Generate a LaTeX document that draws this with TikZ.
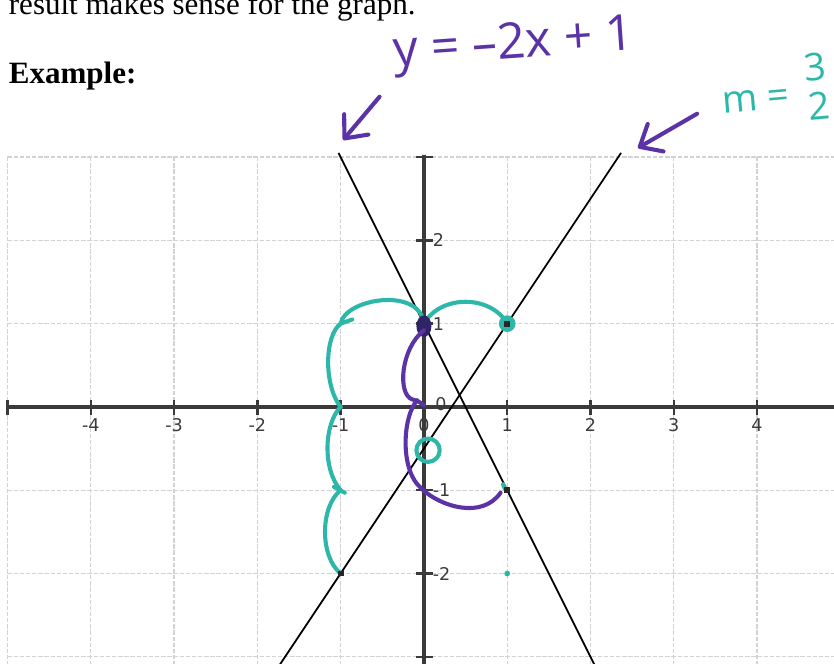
\documentclass[tikz,border=0pt]{standalone}
\usepackage{fontspec}
\setmainfont{Liberation Serif}
\setsansfont{Open Sans}
\newfontfamily\tickfont{DejaVu Sans}
\usepackage{tikz}
\usetikzlibrary{arrows.meta,positioning}
\definecolor{Ink}{HTML}{5B33A6}
\definecolor{InkDark}{HTML}{2F2566}
\definecolor{Sea}{HTML}{2DB7A8}
\definecolor{Grid}{HTML}{D2D2D2}
\definecolor{Axis}{HTML}{3A3A3A}
\tikzset{
  gridline/.style={draw=Grid, line width=0.45pt, dash pattern=on 1.5pt off 0.6pt},
  axisline/.style={draw=Axis, line width=1.1pt},
  tickmark/.style={draw=Axis, line width=0.8pt},
  ticklabel/.style={font=\tickfont\fontsize{6}{7}\selectfont, text=Axis, inner sep=0pt},
  graphline/.style={draw=black, line width=0.6pt},
  pen/.style={line width=1.4pt, line cap=round, line join=round},
  penink/.style={pen, draw=Ink},
  pensea/.style={pen, draw=Sea},
  pointer/.style={penink, -{Straight Barb[length=2.2mm,width=3.8mm,round]}},
  hand/.style={font=\sffamily\fontsize{17}{19}\selectfont, inner sep=0pt},
  body/.style={font=\fontsize{10.6}{12}\selectfont, inner sep=0pt, anchor=base west},
  sqdot/.style={rectangle, fill=black!85, inner sep=0pt, minimum size=0.7mm},
}

\begin{document}
\begin{tikzpicture}
  \useasboundingbox (-5.09,-3.085) rectangle (4.924,4.886);
  % grid and axes
  \foreach \k in {-5,...,4} \draw[gridline] (\k,3) -- (\k,-3.2);
  \foreach \k in {-3,...,3} \draw[gridline] (-5,\k) -- (5,\k);
  \draw[axisline] (-5,0) -- (5,0);
  \draw[axisline] (0,3.03) -- (0,-3.2);
  \foreach \k in {-5,...,4} \draw[tickmark] (\k,-0.1) -- (\k,0.08);
  \foreach \k in {-3,...,3} \draw[tickmark] (-0.09,\k) -- (0.11,\k);
  \foreach \k in {-4,...,4} \node[ticklabel] (xl\k) at (\k,-0.22) {\k};
  \foreach \k in {-2,-1,1,2} \node[ticklabel, anchor=west] (yl\k) at (0.1,\k) {\k};
  \node[ticklabel, anchor=west] (yl0) at (0.13,0.03) {0};
  % the two lines
  \draw[graphline] (-1.025,3.05) -- (2.1,-3.2);
  \draw[graphline] (2.367,3.05) -- (-1.8,-3.2);
  % printed text
  \node[body] (intro) at (-4.99,4.71) {result makes sense for the graph.};
  \node[body, font=\fontsize{10.6}{12}\selectfont\bfseries] (example) at (-4.99,3.88) {Example:};
  % points
  \coordinate (lowL) at (-1,-2);
  \coordinate (midL) at (-1,-1);
  \coordinate (zeroL) at (-1,0);
  \coordinate (oneL) at (-1,1);
  \coordinate (yint) at (0,1);
  \coordinate (oneR) at (1,1);
  \coordinate (lowR) at (1,-1);
  % teal hops
  \draw[pensea] (lowL) .. controls (-1.25,-1.8) and (-1.25,-1.2) .. (midL);
  \draw[pensea] (midL) .. controls (-1.22,-0.75) and (-1.2,-0.2) .. (zeroL);
  \draw[pensea] (zeroL) .. controls (-1.2,0.25) and (-1.2,0.85) .. (oneL);
  \draw[pensea] (oneL) .. controls (-0.95,1.3) and (-0.05,1.45) .. (yint);
  \draw[pensea] (yint) .. controls (0.2,1.35) and (0.8,1.35) .. (oneR);
  \draw[pensea] ([shift={(-0.08,0.04)}]midL) -- ([shift={(0.05,-0.03)}]midL);
  \draw[pensea] (oneL) -- ++(0.14,0.05);
  \draw[pensea] (0.95,-0.93) -- (0.97,-0.98);
  \draw[pensea] (0.05,-0.52) circle (0.14);
  \fill[Sea] (oneR) circle (0.1);
  \fill[Sea] (1,-2) circle (0.035);
  % purple path
  \fill[InkDark] (0,0.97) ellipse [x radius=0.09, y radius=0.13];
  \draw[penink] (0,0.92) .. controls (-0.28,0.7) and (-0.32,0.15) .. (-0.14,0.09)
    .. controls (-0.07,0.07) .. (0,0.02);
  \draw[penink] (-0.08,0.08) .. controls (-0.25,-0.1) and (-0.3,-0.75) .. (-0.03,-0.98)
    .. controls (0.2,-1.2) and (0.7,-1.35) .. (0.92,-1.03);
  \node[sqdot] (sqR) at (oneR) {};
  \node[sqdot] (sqLow) at (lowR) {};
  \node[sqdot] (sqL) at (lowL) {};
  % handwritten labels
  \node[hand, text=Ink, rotate=4] (eqlabel) at (1.08,4.33) {y = –2x + 1};
  \node[hand, text=Sea, font=\sffamily\fontsize{13}{15}\selectfont, rotate=5, anchor=base west]
    (slopelabel) at (3.59,3.52) {m =\hspace{6pt}\raisebox{-5pt}{\shortstack{3\\[1pt]2}}};
  \coordinate (topA) at (-0.97,3.205);
  \coordinate (topB) at (2.57,3.11);
  \draw[pointer] ([xshift=-1.8mm,yshift=-2.1mm]eqlabel.south west) -- (topA);
  \draw[pointer] ([xshift=-3.1mm]slopelabel.base west) -- (topB);
\end{tikzpicture}
\end{document}
